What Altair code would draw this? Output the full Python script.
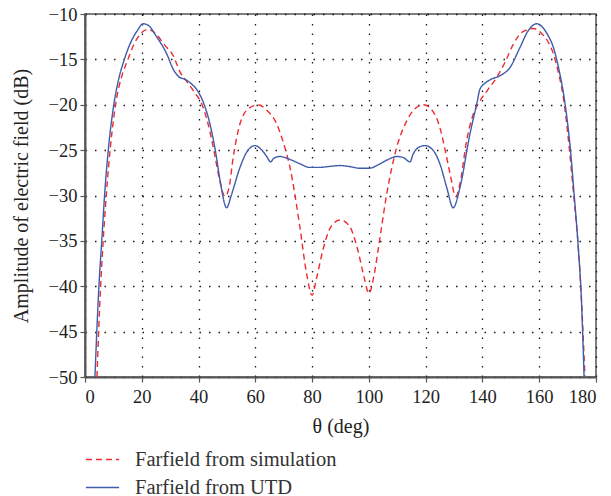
import altair as alt
import pandas as pd

# Farfield from simulation (red dashed)
sim_theta = [4.2, 5.5, 6.4, 7.6, 9, 11.2, 13, 14.7, 17, 19.5, 22.3, 25, 28, 31.1, 33.5, 36, 38.5, 41.1,
             43, 45.2, 47.5, 49.3, 50.7, 52.2, 54.6, 57, 61, 64, 67.5, 70, 72.2, 75.7, 78, 80, 81.5,
             83.9, 86.5, 89.8, 93, 96, 98.3, 100, 101.8, 103.3, 106.3, 109.8, 113.3, 116, 119.2,
             122.5, 125, 127, 128.6, 130.6, 132.2, 134.4, 136.5, 139.1, 142, 145, 148, 150.9, 154,
             157.9, 161, 163, 165, 166.8, 168.5, 170.5, 172, 173.8, 174.8, 176.1]
sim_db = [-50, -40, -35, -29.5, -24.5, -19.2, -16.8, -15.35, -13.5, -12.2, -11.7, -12.2, -13.4, -14.6,
          -16.4, -17.5, -18.6, -19.9, -21.7, -24.7, -28.4, -30.1, -29.2, -25.8, -22.1, -20.6, -20.0,
          -20.6, -22.1, -24.3, -26.9, -33.5, -38.5, -41.0, -39.2, -35.9, -33.5, -32.7, -33.3, -35.9,
          -39.0, -40.8, -38.8, -35.9, -29.8, -24.7, -21.8, -20.5, -20.0, -20.7, -22.5, -25.2, -27.6,
          -30.1, -28.5, -24.0, -21.3, -19.6, -18.3, -17.0, -15.3, -13.3, -12.0, -11.6, -12.2, -13.0,
          -14.4, -16.5, -19.2, -24.5, -29.5, -35.9, -41, -50]

# Farfield from UTD (blue solid)
utd_theta = [3.5, 4.9, 5.9, 7, 8.2, 10, 12, 13.5, 16, 18.5, 20.5, 22.5, 25, 28.8, 31.1, 33, 35.2, 37.5,
             39.3, 42, 44, 46, 47.6, 49.9, 51.5, 54.6, 57, 59.9, 62, 64, 65.4, 66.5, 68.7, 72, 75.7, 79,
             82.8, 86, 89.8, 93, 96.9, 100, 104, 107, 109.8, 112, 114.5, 115.5, 117.5, 119.8, 122.7,
             125, 127.4, 129.7, 132.1, 135.6, 138, 139.1, 141, 143, 146.2, 149.7, 153.2, 156, 159.1,
             161, 163, 165, 167, 169.1, 171, 172.2, 173.8, 174.8, 175.8]
utd_db = [-50, -40, -35, -29.5, -25, -20.3, -17, -15.35, -13.2, -11.8, -11.07, -11.3, -12.4, -14.4,
          -16.1, -16.9, -17.2, -17.7, -18.3, -20.0, -22.1, -25.2, -28.4, -31.35, -30.0, -26.9, -25.2,
          -24.5, -24.9, -25.7, -26.3, -25.9, -25.7, -26.0, -26.5, -26.9, -26.9, -26.8, -26.7, -26.8,
          -27.0, -27.0, -26.5, -26.0, -25.7, -25.8, -26.3, -25.5, -24.7, -24.5, -25.05, -26.5, -29.1,
          -31.35, -29.1, -23.2, -19.9, -18.3, -17.6, -17.2, -16.8, -15.9, -13.7, -11.9, -11.07, -11.4,
          -12.3, -13.7, -16.2, -19.9, -25, -29.5, -35.9, -41, -50]

series_names = ["Farfield from simulation", "Farfield from UTD"]
series_colors = ["#ee2a30", "#3f5caa"]
x_ticks = list(range(0, 181, 20))
y_ticks = list(range(-50, -9, 5))

df = pd.concat([
    pd.DataFrame({"theta": sim_theta, "db": sim_db, "series": series_names[0], "ord": range(len(sim_theta))}),
    pd.DataFrame({"theta": utd_theta, "db": utd_db, "series": series_names[1], "ord": range(len(utd_theta))}),
])

FONT = "Liberation Serif"

chart = alt.Chart(df).mark_line(interpolate="monotone", strokeWidth=1.4, clip=True).encode(
    x=alt.X("theta:Q", scale=alt.Scale(domain=[0, 180], nice=False),
            axis=alt.Axis(values=x_ticks, title="θ (deg)", format="d")),
    y=alt.Y("db:Q", scale=alt.Scale(domain=[-50, -10], nice=False),
            axis=alt.Axis(values=y_ticks, title="Amplitude of electric field (dB)", format="d")),
    color=alt.Color("series:N", scale=alt.Scale(domain=series_names, range=series_colors),
                    legend=alt.Legend(title=None, orient="none", legendX=0, legendY=428,
                                      symbolType="stroke", symbolSize=1100, symbolStrokeWidth=1.4,
                                      labelOffset=15, rowPadding=-7, labelFontSize=20.5, labelFont=FONT,
                                      labelColor="#333333", labelLimit=400)),
    strokeDash=alt.StrokeDash("series:N", scale=alt.Scale(domain=series_names, range=[[6, 4], [1, 0]]),
                              legend=None),
    detail="series:N",
    order="ord:Q",
).properties(
    width=511, height=363,
    autosize=alt.AutoSizeParams(type="none"),
    padding={"left": 77, "top": 6, "right": 7, "bottom": 119},
).configure_view(
    stroke="#555555", strokeWidth=1.5
).configure_axis(
    labelFont=FONT, titleFont=FONT, labelFontSize=18.5, titleFontSize=20,
    labelColor="#222222", titleColor="#222222", titleFontWeight="normal",
    domainColor="#555555", domainWidth=2, tickColor="#555555", tickSize=5, tickWidth=1.2,
    gridColor="#000000", gridDash=[1.5, 8], gridWidth=1.3, gridOpacity=0.9,
).configure_axisX(
    labelPadding=5, titlePadding=11
).configure_axisY(
    labelPadding=3, titlePadding=17
)

chart.save("out.html", embed_options={"renderer": "svg", "actions": False})
